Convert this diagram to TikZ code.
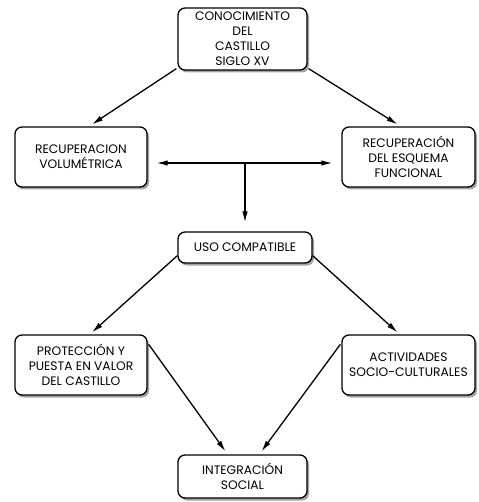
\documentclass[tikz,border=0pt]{standalone}
\usepackage{fontspec}
\setmainfont{Poppins}
\usetikzlibrary{shadows,arrows.meta,calc}
\begin{document}
\begin{tikzpicture}[x=1pt,y=-1pt,
  box/.style={draw=black, line width=1.3pt, fill=white, rounded corners=7pt,
    align=center, inner sep=0pt, font=\fontsize{12.3}{15}\selectfont,
    drop shadow={shadow xshift=2pt, shadow yshift=-2.5pt, fill=black!45, opacity=0.8}},
  arr/.style={line width=1.3pt, -{Latex[length=11pt,width=5.5pt]}}]
\useasboundingbox (0,0) rectangle (478,502);
\node[box, minimum width=129pt, minimum height=62pt] (top) at (242.5,39)
  {CONOCIMIENTO\\DEL\\CASTILLO\\SIGLO XV};
\node[box, minimum width=132pt, minimum height=60pt] (rv) at (81,157)
  {RECUPERACION\\VOLUMÉTRICA};
\node[box, minimum width=133pt, minimum height=60pt] (re) at (408.5,157)
  {RECUPERACIÓN\\DEL ESQUEMA\\FUNCIONAL};
\node[box, minimum width=134pt, minimum height=31pt] (uso) at (245,247.5)
  {USO COMPATIBLE};
\node[box, minimum width=132pt, minimum height=60pt] (pv) at (81,365)
  {PROTECCIÓN Y\\PUESTA EN VALOR\\DEL CASTILLO};
\node[box, minimum width=133pt, minimum height=60pt] (ac) at (408.5,365)
  {ACTIVIDADES\\SOCIO-CULTURALES};
\node[box, minimum width=129pt, minimum height=43pt] (is) at (242.5,476.5)
  {INTEGRACIÓN\\SOCIAL};
\coordinate (mid) at (245,163);
\draw[arr] ($(top.south west)+(-1,-2)$) -- ($(rv.north)+(11,-2)$);
\draw[arr] ($(top.south east)+(1,-2)$) -- ($(re.north)+(-11,-2)$);
\draw[arr, shorten >=9pt] (mid) -- (mid -| rv.east);
\draw[arr, shorten >=9pt] (mid) -- (mid -| re.west);
\draw[arr, shorten >=9pt] (mid) -- (mid |- uso.north);
\draw[arr] ($(uso.south west)+(0,-8)$) -- ($(pv.north)+(11,-2)$);
\draw[arr] ($(uso.south east)+(0,-8)$) -- ($(ac.north)+(-11,-2)$);
\draw[arr] ($(pv.north east)+(1,10)$) -- ($(is.north)+(-17,-3)$);
\draw[arr] ($(ac.north west)+(-1,10)$) -- ($(is.north)+(19,-3)$);
\end{tikzpicture}
\end{document}
